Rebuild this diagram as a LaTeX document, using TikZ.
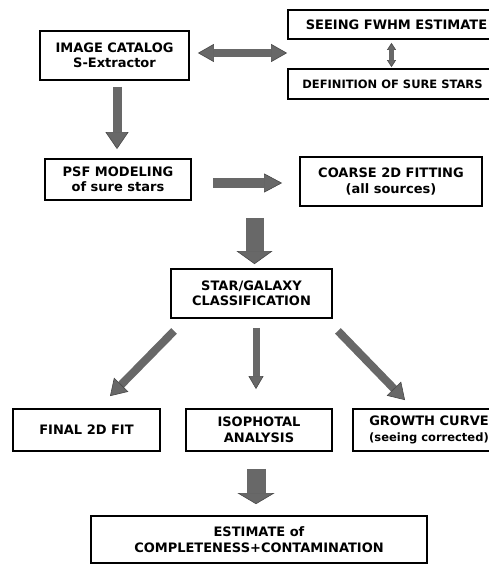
\documentclass[tikz,border=0pt]{standalone}
\usepackage{fontspec}
\setmainfont{DejaVu Sans}
\usepackage{tikz}
\usetikzlibrary{arrows.meta, positioning, calc}

\definecolor{arrgray}{HTML}{686868}
\definecolor{arredge}{HTML}{484848}

\begin{document}
\begin{tikzpicture}[
    x=1pt, y=-1pt,
    box/.style={rectangle, draw=black, line width=1.8pt, fill=white, inner sep=0pt, align=center, font=\bfseries\fontsize{13pt}{15.5pt}\selectfont},
    small/.style={font=\bfseries\fontsize{11.5pt}{14pt}\selectfont},
    arr/.style n args={3}{draw=arrgray, line width=#1, -{Triangle[length=#3, width=#2, line width=0.6pt, fill=arrgray, color=arredge]}},
    dblarr/.style n args={3}{draw=arrgray, line width=#1, {Triangle[length=#3, width=#2, line width=0.6pt, fill=arrgray, color=arredge]}-{Triangle[length=#3, width=#2, line width=0.6pt, fill=arrgray, color=arredge]}}
]
    \useasboundingbox (0,0) rectangle (489,564);
    \clip (0,0) rectangle (489,564);

    \node[box, minimum width=149pt, minimum height=49pt] (cat) at (114.5,55.5) {IMAGE CATALOG\\S-Extractor};
    \node[box, minimum width=217pt, minimum height=29pt] (see) at (396.5,24.5) {SEEING FWHM ESTIMATE};
    \node[box, small, minimum width=209pt, minimum height=30pt] (def) at (392.5,84) {DEFINITION OF SURE STARS};
    \node[box, minimum width=146pt, minimum height=41pt] (psf) at (118,179.5) {PSF MODELING\\of sure stars};
    \node[box, minimum width=182pt, minimum height=49pt] (coarse) at (391,181.5) {COARSE 2D FITTING\\(all sources)};
    \node[box, minimum width=161pt, minimum height=49pt] (star) at (251.5,293.5) {STAR/GALAXY\\CLASSIFICATION};
    \node[box, minimum width=147pt, minimum height=42pt] (fit) at (86.5,430) {FINAL 2D FIT};
    \node[box, minimum width=146pt, minimum height=42pt] (iso) at (259,430) {ISOPHOTAL\\ANALYSIS};
    \node[box, minimum width=152pt, minimum height=42pt] (grow) at (429,430) {GROWTH CURVE\\{\fontsize{11.5pt}{14pt}\selectfont(seeing corrected)}};
    \node[box, minimum width=336pt, minimum height=47pt] (est) at (259,539.5) {ESTIMATE of\\COMPLETENESS+CONTAMINATION};

    \coordinate (split) at ($(psf.south)!0.5!(coarse.south)$);

    \draw[dblarr={8pt}{18pt}{16pt}] ([xshift=8pt,yshift=2.5pt]cat.east) -- ([yshift=2.5pt]cat.east -| def.west);
    \draw[dblarr={5pt}{9pt}{7pt}] ([xshift=-5pt,yshift=-3pt]see.south) -- ([xshift=-5pt,yshift=1pt]see.south |- def.north);
    \draw[arr={9pt}{23pt}{17pt}, shorten >=9pt] ([xshift=2.5pt,yshift=-6pt]cat.south) -- ([xshift=2.5pt]cat.south |- psf.north);
    \draw[arr={10pt}{19pt}{18pt}] ([xshift=21pt,yshift=-3.5pt]psf.east) -- ([xshift=-17pt,yshift=-1.5pt]coarse.west);
    \draw[arr={18pt}{36pt}{13pt}, shorten >=4pt] ([yshift=-14pt]split) -- (split |- star.north);

    % three branches
    \draw[arr={8pt}{20pt}{16pt}] ([xshift=4pt,yshift=-12pt]star.south west) -- ([xshift=23.5pt,yshift=12pt]fit.north);
    \draw[arr={7pt}{15pt}{13pt}, shorten >=19pt] ([xshift=4.5pt,yshift=-9pt]star.south) -- ([xshift=4.5pt]star.south |- iso.north);
    \draw[arr={8pt}{20pt}{16pt}] ([xshift=5pt,yshift=-12pt]star.south east) -- ([xshift=-24pt,yshift=8pt]grow.north);

    \draw[arr={19pt}{37pt}{11pt}, shorten >=11pt] ([xshift=-3pt,yshift=-17pt]iso.south) -- ([xshift=-3pt]iso.south |- est.north);
\end{tikzpicture}
\end{document}
